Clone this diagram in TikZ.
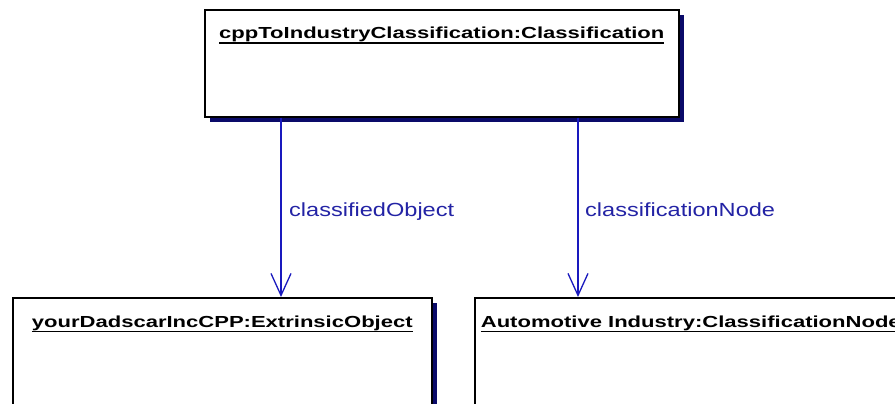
\documentclass[tikz,border=0pt]{standalone}
\usepackage{fontspec}
\setmainfont{Liberation Sans}
\usetikzlibrary{arrows.meta,shadows}
\definecolor{arrowcol}{RGB}{25,25,190}
\definecolor{labelcol}{RGB}{35,35,165}
\definecolor{shadowcol}{RGB}{10,10,105}
\tikzset{
 objbox/.style={draw=black, line width=1.6pt, fill=white, rectangle, inner sep=0pt, anchor=north west,
   drop shadow={shadow xshift=5pt, shadow yshift=-5pt, fill=shadowcol, opacity=1}},
 titletext/.style={font=\fontsize{16}{19}\selectfont\bfseries, inner sep=0pt, anchor=base},
 lbl/.style={font=\fontsize{19}{22}\selectfont, text=labelcol, inner sep=0pt, anchor=base west},
 assoc/.style={draw=arrowcol, line width=1.3pt, -{Straight Barb[length=22pt,width=20pt,line width=1.3pt]}}
}
\newcommand{\ttl}[1]{\scalebox{1.377}[1]{\setbox0\hbox{#1}\rlap{\rule[-5pt]{\wd0}{1.5pt}}\box0}}
\newcommand{\lab}[1]{\scalebox{1.24}[1]{#1}}
\begin{document}
\begin{tikzpicture}[x=1pt,y=1pt]
\useasboundingbox (0,0) rectangle (895,-404);
\fill[white] (0,0) rectangle (895,-404);
\clip (0,0) rectangle (895,-404);
\node[objbox, minimum width=474pt, minimum height=107pt] (cls) at (204,-9) {};
\node[objbox, minimum width=419pt, minimum height=130pt] (obj) at (12,-297) {};
\node[objbox, minimum width=432pt, minimum height=130pt] (cnode) at (474,-297) {};
\node[titletext] (t1) at ([yshift=-30pt]cls.north) {\ttl{cppToIndustryClassification:Classification}};
\node[titletext] (t2) at ([yshift=-30pt]obj.north) {\ttl{yourDadscarIncCPP:ExtrinsicObject}};
\node[titletext] (t3) at ([yshift=-30pt]cnode.north) {\ttl{Automotive Industry:ClassificationNode}};
\coordinate (xa) at (281,0);
\coordinate (xb) at (578,0);
\draw[assoc] (cls.south -| xa) -- (obj.north -| xa);
\draw[assoc] (cls.south -| xb) -- (cnode.north -| xb);
\node[lbl] (la) at (289,-216) {\lab{classifiedObject}};
\node[lbl] (lb) at (585,-216) {\lab{classificationNode}};
\end{tikzpicture}
\end{document}
